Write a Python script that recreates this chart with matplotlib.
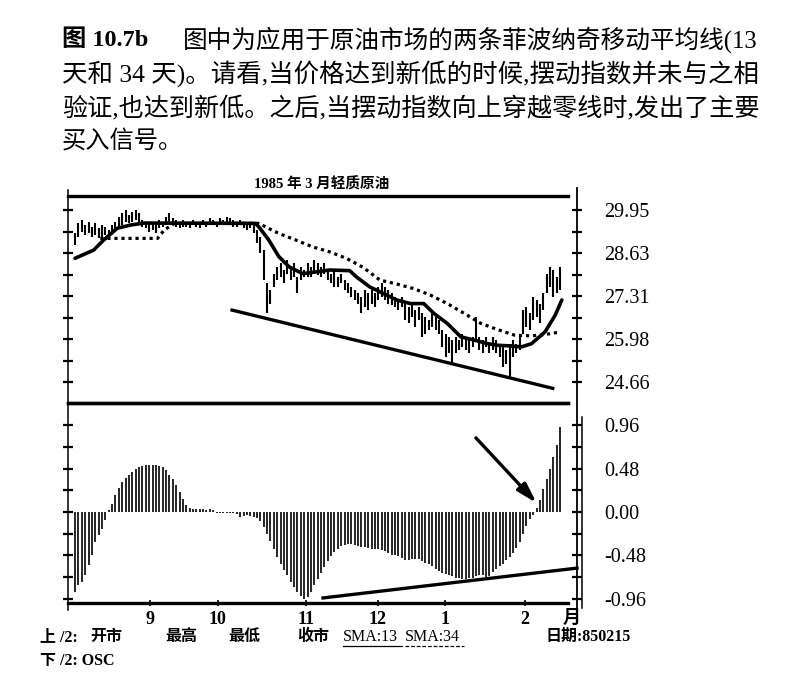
import matplotlib
matplotlib.use('Agg')
import matplotlib.pyplot as plt
from matplotlib.lines import Line2D
import numpy as np

# ---------------- data ----------------
highs = [29.23, 29.54, 29.64, 29.49, 29.59, 29.44, 29.54, 29.39, 29.49, 29.44,
         29.34, 29.49, 29.59, 29.75, 29.85, 29.95, 29.80, 29.90, 29.95, 29.85,
         29.64, 29.59, 29.54, 29.59, 29.49, 29.64, 29.59, 29.75, 29.85, 29.70,
         29.64, 29.59, 29.64, 29.59, 29.54, 29.64, 29.59, 29.54, 29.64, 29.59,
         29.70, 29.64, 29.59, 29.70, 29.64, 29.75, 29.70, 29.64, 29.59, 29.64,
         29.59, 29.54, 29.59, 29.54, 29.34, 29.13, 28.72, 27.70, 27.49, 28.00,
         28.21, 28.31, 28.11, 28.41, 28.21, 28.31, 27.90, 28.21, 28.11, 28.31,
         28.21, 28.41, 28.31, 28.21, 28.31, 28.11, 28.00, 28.11, 27.90, 28.00,
         27.80, 27.70, 27.59, 27.49, 27.39, 27.29, 27.49, 27.39, 27.49, 27.39,
         27.59, 27.70, 27.59, 27.49, 27.39, 27.29, 27.19, 27.29, 27.08, 26.98,
         27.08, 26.88, 26.98, 26.78, 26.67, 26.57, 26.78, 26.67, 26.57, 26.26,
         26.16, 26.06, 25.96, 26.06, 25.96, 26.16, 26.06, 25.96, 26.06, 26.67,
         26.06, 25.96, 26.06, 25.85, 26.06, 25.96, 25.85, 25.75, 25.65, 25.85,
         25.96, 25.85, 26.06, 26.88, 26.98, 26.78, 27.29, 27.19, 27.08, 27.39,
         28.00, 28.21, 28.11, 27.90, 28.21]
lows = [28.88, 29.13, 29.28, 29.18, 29.23, 29.13, 29.18, 29.08, 29.13, 29.18,
        29.03, 29.18, 29.28, 29.44, 29.49, 29.59, 29.54, 29.59, 29.64, 29.49,
        29.44, 29.39, 29.28, 29.34, 29.23, 29.39, 29.44, 29.49, 29.54, 29.49,
        29.44, 29.39, 29.44, 29.44, 29.39, 29.49, 29.44, 29.39, 29.49, 29.44,
        29.49, 29.49, 29.44, 29.54, 29.49, 29.54, 29.49, 29.44, 29.44, 29.49,
        29.39, 29.34, 29.39, 29.23, 28.93, 28.62, 27.80, 26.78, 27.08, 27.59,
        27.80, 27.90, 27.70, 28.00, 27.80, 27.90, 27.39, 27.80, 27.90, 27.90,
        27.90, 28.00, 27.95, 27.90, 28.00, 27.80, 27.70, 27.59, 27.59, 27.70,
        27.49, 27.39, 27.29, 27.19, 27.08, 26.78, 26.98, 26.88, 27.08, 26.98,
        27.19, 27.29, 27.19, 27.08, 27.03, 26.98, 26.88, 26.98, 26.57, 26.47,
        26.67, 26.37, 26.57, 26.06, 26.16, 26.26, 26.37, 26.26, 26.16, 25.75,
        25.44, 25.55, 25.24, 25.55, 25.65, 25.75, 25.65, 25.55, 25.75, 25.96,
        25.65, 25.55, 25.75, 25.55, 25.65, 25.55, 25.44, 25.14, 25.24, 24.83,
        25.44, 25.55, 25.65, 26.16, 26.37, 26.26, 26.57, 26.67, 26.47, 26.88,
        27.39, 27.59, 27.29, 27.39, 27.49]

sma13_day = [0, 5.5, 8.5, 12.5, 16.5, 20.5, 53.5, 54.5, 57.5, 60.5, 63.5, 67.5,
             71.5, 75.5, 81.5, 83.5, 87.5, 91.5, 95.5, 99.5, 103.5, 106.5, 110.5,
             114.5, 118.5, 122.5, 125.5, 129.5, 132.5, 135.5, 139.5, 142.5, 144.5]
sma13_val = [28.47, 28.72, 29.03, 29.39, 29.49, 29.55, 29.54, 29.44, 29.03, 28.52,
             28.21, 28.00, 28.05, 28.11, 28.09, 27.90, 27.59, 27.39, 27.19, 27.08,
             27.08, 26.78, 26.47, 26.06, 25.96, 25.85, 25.80, 25.78, 25.75, 25.85,
             26.21, 26.72, 27.19]

sma34_day = [7.5, 24.5, 26.5, 29.5, 54.5, 60.5, 65.5, 70.5, 75.5, 80.5, 85.5, 90.5,
             95.5, 100.5, 105.5, 110.5, 115.5, 120.5, 125.5, 130.5, 135.5, 139.5, 144]
sma34_val = [29.08, 29.08, 29.34, 29.54, 29.54, 29.23, 29.03, 28.82, 28.67, 28.47,
             28.19, 27.80, 27.68, 27.54, 27.34, 27.08, 26.78, 26.47, 26.28, 26.11,
             26.09, 26.13, 26.21]

osc = [-0.886, -0.812, -0.775, -0.701, -0.591, -0.480, -0.332, -0.258, -0.185, -0.092,
       0.018, 0.092, 0.185, 0.266, 0.332, 0.377, 0.406, 0.443, 0.473, 0.495,
       0.506, 0.517, 0.524, 0.524, 0.521, 0.513, 0.495, 0.462, 0.414, 0.362,
       0.295, 0.222, 0.148, 0.081, 0.044, 0.033, 0.030, 0.030, 0.030, 0.028,
       0.030, 0.020, -0.007, -0.010, -0.010, -0.010, -0.010, -0.012, -0.020, -0.055,
       -0.040, -0.030, -0.040, -0.050, -0.066, -0.103, -0.166, -0.240, -0.325, -0.406,
       -0.498, -0.572, -0.646, -0.701, -0.775, -0.831, -0.886, -0.930, -0.960, -0.941,
       -0.879, -0.805, -0.738, -0.672, -0.609, -0.546, -0.487, -0.443, -0.406, -0.380,
       -0.366, -0.358, -0.358, -0.362, -0.373, -0.384, -0.391, -0.399, -0.406, -0.406,
       -0.410, -0.421, -0.436, -0.454, -0.473, -0.480, -0.491, -0.509, -0.528, -0.535,
       -0.524, -0.517, -0.524, -0.543, -0.561, -0.580, -0.602, -0.628, -0.653, -0.676,
       -0.687, -0.698, -0.709, -0.724, -0.735, -0.742, -0.742, -0.735, -0.724, -0.709,
       -0.698, -0.701, -0.716, -0.709, -0.665, -0.628, -0.598, -0.572, -0.535, -0.498,
       -0.450, -0.395, -0.332, -0.240, -0.155, -0.081, -0.037, 0.040, 0.129, 0.258,
       0.369, 0.480, 0.609, 0.738, 0.941]

price_ticks = [29.95, 28.63, 27.31, 25.98, 24.66]
osc_ticks = [0.96, 0.48, 0.00, -0.48, -0.96]
month_labels = ['9', '10', '11', '12', '1', '2']
month_pos = [22.3, 42.4, 68.5, 89.9, 109.8, 133.5]

upper_trend_day = [46.6, 141.8]
upper_trend_val = [26.88, 24.48]
lower_trend_day = [73.6, 149.0]
lower_trend_val = [-0.95, -0.62]
arrow_from = (119.0, 0.82)
arrow_to = (137.0, 0.10)

title = '1985 年 3 月轻质原油'
caption_head = '图 10.7b'
caption_lines = ['图中为应用于原油市场的两条菲波纳奇移动平均线(13',
                 '天和 34 天)。请看,当价格达到新低的时候,摆动指数并未与之相',
                 '验证,也达到新低。之后,当摆动指数向上穿越零线时,发出了主要',
                 '买入信号。']

# ---------------- figure ----------------
W, H = 801, 687
fig = plt.figure(figsize=(W / 100, H / 100), dpi=100)
fig.patch.set_facecolor('white')


def fx(px):
    return px / W


def fy(py):
    return 1 - py / H


LX, RX = 68, 577
ax1 = fig.add_axes([fx(LX), fy(403), fx(RX) - fx(LX), fy(196) - fy(403)])
ax2 = fig.add_axes([fx(LX), fy(603), fx(RX) - fx(LX), fy(403) - fy(603)])

days = np.arange(len(highs))
XLIM = (-2.1, 149.0)

serif = ['Liberation Serif', 'Noto Sans CJK SC']
cjk = ['Noto Sans CJK SC', 'DejaVu Sans']

# upper panel
ax1.vlines(days, lows, highs, color='black', lw=1.5)
ax1.plot(sma13_day, sma13_val, color='black', lw=2.6, solid_capstyle='round')
ax1.plot(sma34_day, sma34_val, color='black', lw=2.3, linestyle=(0, (1.0, 1.2)))
ax1.plot(upper_trend_day, upper_trend_val, color='black', lw=2.4)
ax1.set_xlim(*XLIM)
ax1.set_ylim(24.03, 30.38)

# lower panel
ax2.vlines(days, 0, osc, color='black', lw=1.2)
ax2.plot(lower_trend_day, lower_trend_val, color='black', lw=2.4, clip_on=False)
ax2.annotate('', xy=arrow_to, xytext=arrow_from,
             arrowprops=dict(arrowstyle='-|>,head_length=1.2,head_width=0.35',
                             color='black', lw=2.4, shrinkA=0, shrinkB=0))
ax2.set_xlim(*XLIM)
ax2.set_ylim(-1.006, 1.206)

for ax, ticks in ((ax1, price_ticks), (ax2, osc_ticks)):
    for s in ax.spines.values():
        s.set_visible(False)
    ax.set_facecolor('none')
    ax.set_yticks(ticks)
    minor = [(a + b) / 2 for a, b in zip(ticks[:-1], ticks[1:])]
    ax.set_yticks(minor, minor=True)
    ax.set_yticklabels(['%.2f' % t for t in ticks])
    ax.tick_params(axis='y', which='both', left=True, right=True, labelleft=False,
                   labelright=True, direction='inout', length=7, width=1.6, pad=16)
    for lab in ax.get_yticklabels():
        lab.set_family(serif)
        lab.set_fontsize(14.5)
    # thick horizontal frame lines
    ax.axhline(ax.get_ylim()[1], xmin=0, xmax=0.982, color='black', lw=2.4, clip_on=False)
    ax.axhline(ax.get_ylim()[0], xmin=0, xmax=0.982, color='black', lw=2.4, clip_on=False)

ax1.set_xticks([])
ax2.set_xticks(month_pos)
ax2.set_xticklabels(month_labels)
ax2.tick_params(axis='x', direction='inout', length=5, width=1.2, pad=3)
for lab in ax2.get_xticklabels():
    lab.set_family(serif)
    lab.set_fontsize(13)
    lab.set_fontweight('bold')

# vertical axis lines
fig.add_artist(Line2D([fx(LX), fx(LX)], [fy(190), fy(610)], color='black', lw=1.1))
fig.add_artist(Line2D([fx(RX), fx(RX)], [fy(188), fy(612)], color='black', lw=1.3))
fig.add_artist(Line2D([fx(RX + 5), fx(RX + 5)], [fy(417), fy(608)], color='black', lw=1.1))

# month unit
fig.text(fx(572), fy(617), '月', family=cjk, fontsize=13, fontweight='bold',
         ha='center', va='center')

# title
fig.text(fx(322), fy(184), title, family=serif, fontsize=10.5, fontweight='bold',
         ha='center', va='center')

# caption
renderer = fig.canvas.get_renderer()
fig.text(fx(62), fy(40), caption_head, family=serif, fontsize=17.5, fontweight='bold',
         ha='left', va='center')
cap_y = [40, 74, 108, 142]
cap_x = [183, 62, 62, 62]
cap_w = [574, 695, 695, None]
for s, yy, xx, ww in zip(caption_lines, cap_y, cap_x, cap_w):
    t = fig.text(fx(xx), fy(yy), s, family=serif, fontsize=17.5, fontweight='medium',
                 ha='left', va='center')
    if ww is not None:
        w = t.get_window_extent(renderer).width
        t.set_fontsize(17.5 * ww / w)

# footer
foot = [('上 /2:', 40), ('开市', 90), ('最高', 165), ('最低', 228), ('收市', 297),
        ('SMA:13', 343), ('SMA:34', 405), ('日期:850215', 546)]
for s, xx in foot:
    fig.text(fx(xx), fy(637), s, family=serif, fontsize=11.5, ha='left', va='center',
             fontweight='bold' if s not in ('SMA:13', 'SMA:34') else 'normal')
fig.add_artist(Line2D([fx(343), fx(402)], [fy(646), fy(646)], color='black', lw=0.9))
fig.add_artist(Line2D([fx(405), fx(464)], [fy(646), fy(646)], color='black', lw=0.9,
                      linestyle=(0, (3, 1.5))))
fig.text(fx(40), fy(661), '下 /2: OSC', family=serif, fontsize=11.5, fontweight='bold',
         ha='left', va='center')

fig.savefig('out.png', dpi=100, facecolor='white')
